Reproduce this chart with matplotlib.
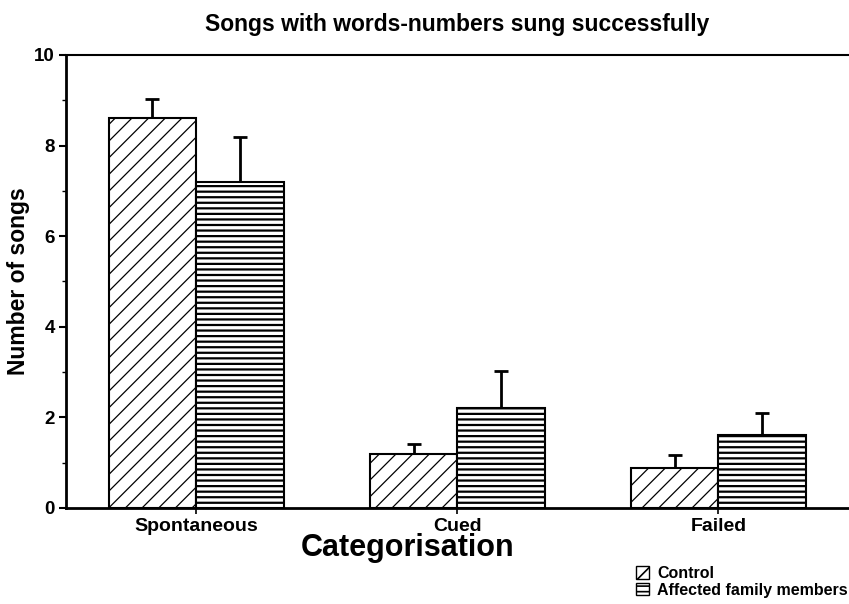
import matplotlib
matplotlib.use("Agg")
import matplotlib.pyplot as plt
import numpy as np
from matplotlib.patches import Patch

plt.rcParams['font.family'] = ['Liberation Sans', 'DejaVu Sans']
plt.rcParams['font.weight'] = 'bold'

categories = ["Spontaneous", "Cued", "Failed"]
series_names = ["Control", "Affected family members"]
control = [8.6, 1.2, 0.88]
control_err = [0.42, 0.22, 0.28]
affected = [7.2, 2.2, 1.6]
affected_err = [1.0, 0.82, 0.5]
yticks = [0, 2, 4, 6, 8, 10]

fig = plt.figure(figsize=(8.49, 6.04), dpi=100)
ax = fig.add_axes([0.0777, 0.159, 0.9223, 0.75])

x = np.arange(len(categories))
w = 0.337
plt.rcParams['hatch.linewidth'] = 0.9
ax.bar(x - w / 2, control, width=w, color='white', edgecolor='black',
       linewidth=1.5, hatch='//', zorder=2)
plt.rcParams['hatch.linewidth'] = 1.6
ax.bar(x + w / 2, affected, width=w, color='white', edgecolor='black',
       linewidth=1.5, hatch='---', zorder=2)
ax.errorbar(x - w / 2, control, yerr=[np.zeros(3), control_err], fmt='none',
            ecolor='black', elinewidth=2, capsize=5, capthick=2, zorder=1)
ax.errorbar(x + w / 2, affected, yerr=[np.zeros(3), affected_err], fmt='none',
            ecolor='black', elinewidth=2, capsize=5, capthick=2, zorder=1)

ax.set_xlim(-0.5, 2.5)
ax.set_ylim(0, 10)
ax.set_yticks(yticks)
ax.set_yticks(np.arange(1, 10, 2), minor=True)
ax.set_xticks(x)
ax.set_xticklabels(categories, fontsize=14, fontweight='bold')
ax.tick_params(axis='y', which='major', labelsize=13.5, length=5, width=1.5, direction='out', pad=3)
ax.tick_params(axis='y', which='minor', length=3, width=1, direction='out')
ax.tick_params(axis='x', which='major', length=4, width=1.2, direction='out', pad=3)
for lab in ax.get_yticklabels():
    lab.set_fontweight('bold')

ax.spines['right'].set_visible(False)
ax.spines['left'].set_linewidth(2)
ax.spines['bottom'].set_linewidth(2)
ax.spines['top'].set_linewidth(1.5)

ax.set_title("Songs with words-numbers sung successfully", fontsize=16.5,
             fontweight='bold', pad=17)
ax.set_xlabel("Categorisation", fontsize=22, fontweight='bold')
ax.xaxis.set_label_coords(0.436, -0.056)
ax.set_ylabel("Number of songs", fontsize=16.5, fontweight='bold', labelpad=3)

plt.rcParams['hatch.linewidth'] = 0.9
h1 = Patch(facecolor='white', edgecolor='black', hatch='//', label=series_names[0])
plt.rcParams['hatch.linewidth'] = 1.2
h2 = Patch(facecolor='white', edgecolor='black', hatch='---', label=series_names[1])
fig.legend(handles=[h1, h2], loc='lower right', bbox_to_anchor=(1.012, -0.008),
           frameon=False, prop={'size': 11.5, 'weight': 'bold'}, handlelength=0.8,
           handleheight=0.8, handletextpad=0.55, labelspacing=0.1, borderpad=0.2)

fig.savefig("out.png", dpi=100)
